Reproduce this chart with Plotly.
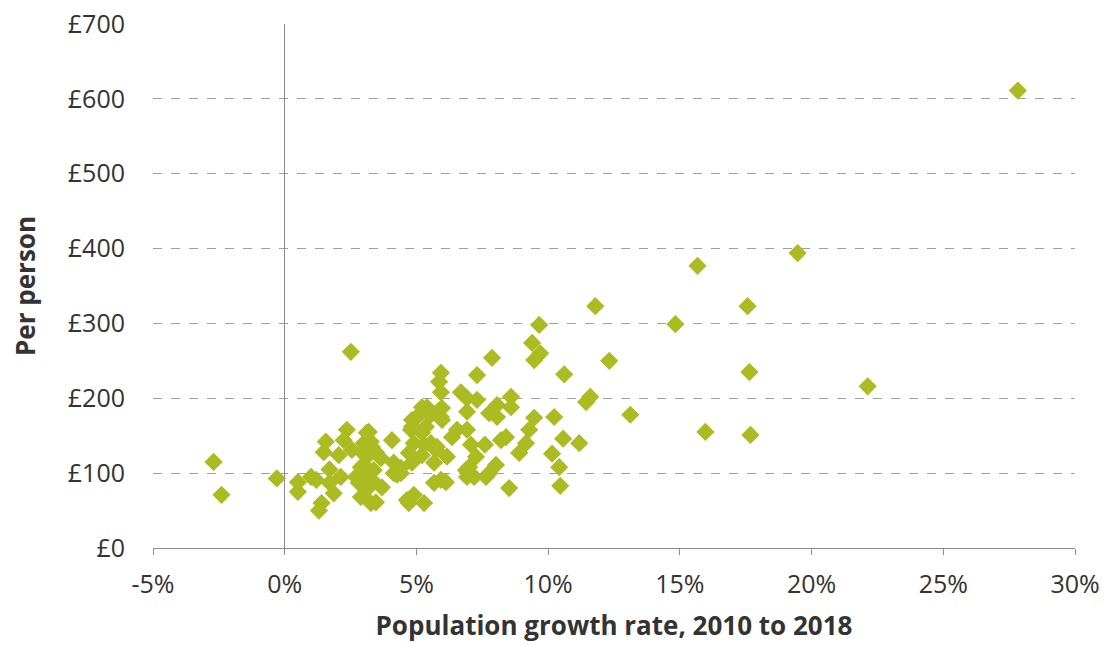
import plotly.graph_objects as go

growth_pct = [
    -2.7, -2.4, -0.3, 0.5, 0.5, 1.0, 1.2, 1.4, 1.3, 1.7, 1.7, 1.86, 2.13, 2.05, 1.48, 1.56,
    2.36, 2.24, 2.55, 2.51, 2.89, 2.70, 2.81, 3.19, 3.27, 3.00, 2.93, 3.12, 3.46, 3.65,
    4.07, 4.14, 2.89, 3.12, 3.38, 3.08, 3.31, 3.19, 3.69, 3.27, 3.46, 4.41, 4.14, 4.64,
    3.31, 3.12, 4.83, 4.26, 4.90, 5.29, 4.83, 5.17, 4.79, 4.90, 5.29, 5.21, 5.40, 5.55,
    5.97, 5.93, 5.55, 5.78, 5.67, 6.16, 5.67, 5.93, 6.12, 5.93, 5.86, 5.93, 6.54, 6.92,
    6.35, 6.69, 6.92, 7.30, 6.92, 7.76, 8.06, 8.06, 8.59, 8.59, 9.47, 9.28, 9.16, 8.90,
    8.40, 8.21, 8.02, 8.52, 7.60, 7.07, 7.26, 7.00, 7.19, 6.92, 7.76, 7.30, 7.87, 9.39,
    9.47, 9.66, 9.70, 10.15, 10.23, 10.42, 10.46, 10.57, 10.61, 11.18, 11.44, 11.60,
    11.79, 12.32, 13.12, 14.83, 15.67, 15.97, 17.57, 17.64, 17.68, 19.47, 22.13, 27.83,
    5.21, 5.02, 5.86, 5.97, 4.83, 5.36, 4.71, 5.21, 5.74, 4.41, 6.88, 7.64, 4.71,
]
per_person = [
    115, 71, 93, 88, 75, 95, 91, 60, 50, 105, 87, 73, 95, 124, 128, 142,
    158, 144, 131, 262, 68, 95, 87, 155, 142, 140, 128, 122, 128, 120,
    144, 114, 108, 107, 104, 95, 91, 81, 81, 60, 61, 107, 100, 64,
    135, 154, 114, 98, 71, 60, 171, 180, 158, 140, 138, 154, 188, 178,
    187, 175, 140, 135, 114, 122, 87, 91, 88, 234, 222, 208, 158, 158,
    148, 208, 200, 198, 182, 180, 191, 175, 202, 188, 174, 158, 140, 127,
    148, 144, 111, 80, 138, 138, 122, 108, 95, 95, 100, 231, 254, 274,
    251, 298, 260, 126, 175, 108, 83, 146, 232, 140, 195, 202,
    323, 250, 178, 299, 377, 155, 323, 235, 151, 394, 216, 611,
    188, 175, 184, 171, 162, 162, 127, 124, 131, 100, 104, 95, 60,
]

x_ticks = [-5, 0, 5, 10, 15, 20, 25, 30]
x_labels = ["-5%", "0%", "5%", "10%", "15%", "20%", "25%", "30%"]
y_ticks = [0, 100, 200, 300, 400, 500, 600, 700]
y_labels = ["£0", "£100", "£200", "£300", "£400", "£500", "£600", "£700"]

fig = go.Figure()
fig.add_trace(go.Scatter(
    x=growth_pct, y=per_person, mode="markers",
    marker=dict(symbol="diamond", size=14, color="#abbb21", line=dict(width=0)),
    hoverinfo="x+y", showlegend=False,
))

font_family = "Open Sans, Noto Sans, sans-serif"
fig.update_layout(
    width=1105, height=646,
    margin=dict(l=153, r=30, t=24, b=98),
    paper_bgcolor="white", plot_bgcolor="white",
    font=dict(family=font_family, size=25, color="#333333"),
    xaxis=dict(
        range=[-5, 30], tickvals=x_ticks, ticktext=x_labels,
        showgrid=False, zeroline=True, zerolinecolor="#8c8c8c", zerolinewidth=1.3,
        showline=True, linecolor="#8c8c8c", linewidth=1.3,
        ticks="outside", ticklen=6, tickcolor="#8c8c8c",
        ticklabelstandoff=8, automargin=False,
        tickfont=dict(size=25, color="#333333"),
        title=dict(text="<b>Population growth rate, 2010 to 2018</b>",
                   font=dict(size=26, color="#333333"), standoff=17),
    ),
    yaxis=dict(
        range=[0, 700], tickvals=y_ticks, ticktext=y_labels,
        showgrid=True, gridcolor="#a0a0a0", griddash="dash", gridwidth=1,
        zeroline=False, showline=False, automargin=False,
        ticklabelstandoff=27,
        tickfont=dict(size=25, color="#333333"),
        title=dict(text="<b>Per person</b>", font=dict(size=26, color="#333333"), standoff=24),
    ),
)

fig.write_html("out.html", config={"displayModeBar": False},
               post_script="document.body.style.margin='0';")
